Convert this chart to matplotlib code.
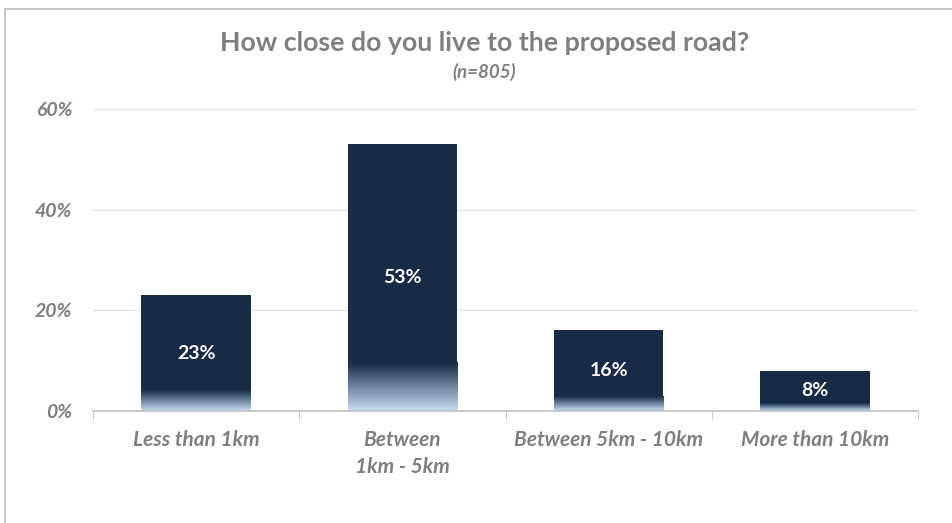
import matplotlib.pyplot as plt
import numpy as np
from matplotlib.colors import LinearSegmentedColormap
from matplotlib.patches import Rectangle

# Datos del gráfico
categorias = ['Less than 1km', 'Between\n1km - 5km', 'Between 5km - 10km', 'More than 10km']
valores = [23, 53, 16, 8]
etiquetas = ['23%', '53%', '16%', '8%']
ticks_y = [0, 20, 40, 60]
titulo = 'How close do you live to the proposed road?'
subtitulo = '(n=805)'

plt.rcParams['font.family'] = ['Lato', 'DejaVu Sans']

gris = '#7F7F7F'
azul = '#172B47'

fig = plt.figure(figsize=(9.53, 5.23), dpi=100)
ax = fig.add_axes([93 / 953, 1 - 411 / 523, 825 / 953, 302 / 523])

x = np.arange(len(categorias))
bars = ax.bar(x, valores, width=0.53, color=azul, zorder=2)

# degradado en la parte inferior de cada barra
cmap = LinearSegmentedColormap.from_list('fade', ['#C9DDF2', '#6E83A0', azul])
grad = np.linspace(0, 1, 100).reshape(-1, 1)
for bar in bars:
    x0 = bar.get_x()
    w = bar.get_width()
    h = bar.get_height()
    hg = h * 0.18
    ax.imshow(grad, cmap=cmap, aspect='auto', origin='lower',
              extent=(x0, x0 + w, 0, hg), zorder=3, interpolation='bicubic')

for bar, txt in zip(bars, etiquetas):
    ax.text(bar.get_x() + bar.get_width() / 2, bar.get_height() / 2, txt,
            ha='center', va='center', color='white', fontsize=14,
            fontweight='bold', zorder=4)

ax.set_xlim(-0.5, len(categorias) - 0.5)
ax.set_ylim(0, 60)
ax.set_yticks(ticks_y)
ax.set_yticklabels([f'{t}%' for t in ticks_y], fontsize=14,
                   fontweight='bold', style='italic', color=gris)
ax.set_xticks(x)
ax.set_xticklabels(categorias, fontsize=15, fontweight='bold',
                   style='italic', color=gris, linespacing=1.4)
ax.set_xticks(np.arange(len(categorias) + 1) - 0.5, minor=True)
ax.tick_params(axis='x', which='major', length=0, pad=14)
ax.tick_params(axis='x', which='minor', length=6, color='#BFBFBF', direction='out')
ax.tick_params(axis='y', length=0, pad=15)
for lbl in ax.get_xticklabels():
    lbl.set_verticalalignment('top')

ax.grid(axis='y', color='#E3E3E3', linewidth=1, zorder=0)
for s in ['top', 'right', 'left']:
    ax.spines[s].set_visible(False)
ax.spines['bottom'].set_color('#BFBFBF')
ax.spines['bottom'].set_linewidth(1.2)
ax.spines['bottom'].set_zorder(5)

fig.text(485 / 953, 1 - 43 / 523, titulo, ha='center', va='center',
         fontsize=19.3, fontweight='bold', color=gris)
fig.text(484 / 953, 1 - 72 / 523, subtitulo, ha='center', va='center',
         fontsize=13.5, fontweight='bold', style='italic', color=gris)

# borde del cuadro
fig.patches.append(Rectangle((5 / 953, -0.1), 1.2, 1 - 9 / 523 + 0.1,
                             transform=fig.transFigure, fill=False,
                             edgecolor='#BDBDBD', linewidth=1.2))

plt.savefig('out.png', dpi=100)
plt.close()
